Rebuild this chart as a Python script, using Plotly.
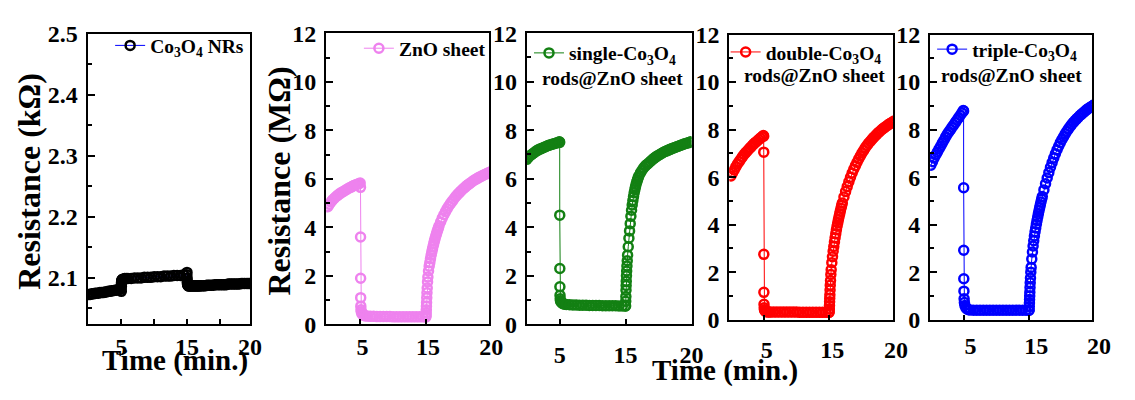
import plotly.graph_objects as go

W, H = 1135, 400

# ---------------- data ----------------
time_min = [
    0, 0.25, 0.5, 0.75, 1, 1.25, 1.5, 1.75, 2, 2.25, 2.5, 2.75, 3, 3.25, 3.5, 3.75,
    4, 4.25, 4.5, 4.75, 4.95,
    5.0, 5.01, 5.02, 5.03, 5.05, 5.08, 5.12, 5.2, 5.35, 5.5, 5.75, 6.0,
    6.5, 7, 7.5, 8, 8.5, 9, 9.5, 10, 10.5, 11, 11.5, 12, 12.5, 13, 13.5, 14, 14.5, 14.95,
    15.0, 15.02, 15.04, 15.06, 15.08, 15.1, 15.13, 15.16, 15.2, 15.25, 15.3, 15.4, 15.5, 15.6,
    15.7, 15.8, 15.9, 16.0, 16.1, 16.2, 16.3, 16.4, 16.5, 16.6, 16.7, 16.8, 16.9, 17.0,
    17.25, 17.5, 17.75, 18, 18.25, 18.5, 18.75, 19, 19.25, 19.5, 19.75, 20,
    20.25, 20.5, 20.75, 21, 21.25, 21.5, 21.75, 22, 22.25, 22.5, 22.75, 23, 23.25, 23.5,
    23.75, 24, 24.25, 24.5, 24.75, 24.9,
]

co3o4_nrs_kohm = [
    2.073, 2.073, 2.074, 2.074, 2.075, 2.075, 2.075, 2.076, 2.076, 2.076, 2.077, 2.077,
    2.078, 2.078, 2.079, 2.079, 2.080, 2.080, 2.081, 2.081, 2.082,
    2.078, 2.086, 2.090, 2.093, 2.095, 2.096, 2.097, 2.098, 2.098, 2.099, 2.099, 2.099,
    2.099, 2.100, 2.100, 2.100, 2.101, 2.101, 2.101, 2.102, 2.102, 2.102, 2.103, 2.103, 2.103,
    2.104, 2.104, 2.104, 2.105, 2.105,
    2.109, 2.100, 2.095, 2.092, 2.090, 2.089, 2.088, 2.088, 2.087, 2.087, 2.087, 2.087, 2.087, 2.087,
    2.087, 2.087, 2.087, 2.087, 2.087, 2.087, 2.087, 2.087, 2.087, 2.087, 2.087, 2.087, 2.087, 2.087,
    2.087, 2.087, 2.087, 2.088, 2.088, 2.088, 2.088, 2.088, 2.089, 2.089, 2.089, 2.089,
    2.089, 2.089, 2.089, 2.089, 2.090, 2.090, 2.090, 2.090, 2.090, 2.090, 2.090, 2.090,
    2.091, 2.091, 2.091, 2.091, 2.091, 2.091, 2.091, 2.091,
]

zno_sheet_mohm = [
    4.85, 4.95, 5.05, 5.13, 5.2, 5.26, 5.32, 5.37, 5.42, 5.46, 5.5, 5.54, 5.58, 5.62,
    5.65, 5.69, 5.72, 5.75, 5.78, 5.8, 5.83,
    5.65, 3.6, 1.9, 1.1, 0.75, 0.6, 0.52, 0.45, 0.4, 0.37, 0.35, 0.34,
    0.33, 0.33, 0.32, 0.32, 0.32, 0.32, 0.32, 0.31, 0.31, 0.31, 0.31, 0.31, 0.31,
    0.31, 0.31, 0.31, 0.31, 0.31,
    0.31, 0.38, 0.48, 0.6, 0.75, 0.9, 1.1, 1.3, 1.5, 1.75, 1.95, 2.2, 2.4, 2.55,
    2.7, 2.85, 2.98, 3.1, 3.22, 3.33, 3.44, 3.54, 3.63, 3.72, 3.81, 3.89, 3.97, 4.05,
    4.22, 4.38, 4.52, 4.65, 4.77, 4.88, 4.98, 5.07, 5.16, 5.25, 5.33, 5.4,
    5.47, 5.54, 5.6, 5.66, 5.72, 5.77, 5.82, 5.87, 5.92, 5.96, 6.0, 6.04, 6.08, 6.11,
    6.15, 6.18, 6.21, 6.24, 6.27, 6.28,
]

single_mohm = [
    6.8, 6.88, 6.95, 7.0, 7.05, 7.1, 7.15, 7.19, 7.22, 7.25, 7.28, 7.31, 7.34, 7.37,
    7.39, 7.41, 7.43, 7.45, 7.47, 7.49, 7.52,
    7.5, 4.5, 2.3, 1.55, 1.2, 1.05, 0.97, 0.92, 0.88, 0.85, 0.83, 0.82,
    0.81, 0.8, 0.8, 0.79, 0.79, 0.79, 0.78, 0.78, 0.78, 0.78, 0.77, 0.77, 0.77,
    0.77, 0.77, 0.76, 0.76, 0.76,
    0.76, 0.95, 1.15, 1.4, 1.6, 1.78, 2.0, 2.2, 2.4, 2.62, 2.85, 3.2, 3.55, 3.85,
    4.15, 4.45, 4.7, 4.92, 5.1, 5.27, 5.42, 5.55, 5.67, 5.78, 5.87, 5.96, 6.04, 6.11,
    6.24, 6.35, 6.45, 6.53, 6.59, 6.65, 6.71, 6.77, 6.83, 6.88, 6.93, 6.97,
    7.01, 7.05, 7.09, 7.12, 7.15, 7.18, 7.21, 7.24, 7.27, 7.29, 7.32, 7.34, 7.37, 7.39,
    7.42, 7.44, 7.46, 7.48, 7.5, 7.52,
]

double_mohm = [
    6.05, 6.18, 6.3, 6.43, 6.55, 6.65, 6.75, 6.85, 6.95, 7.03, 7.1, 7.18, 7.25, 7.33,
    7.4, 7.46, 7.52, 7.58, 7.64, 7.7, 7.75,
    7.72, 7.05, 2.75, 1.15, 0.65, 0.5, 0.42, 0.37, 0.34, 0.33, 0.32, 0.32,
    0.32, 0.32, 0.32, 0.32, 0.32, 0.32, 0.32, 0.32, 0.31, 0.31, 0.31, 0.31, 0.31,
    0.31, 0.31, 0.31, 0.31, 0.31,
    0.32, 0.45, 0.6, 0.75, 0.9, 1.05, 1.25, 1.45, 1.65, 1.9, 2.1, 2.4, 2.65, 2.88,
    3.08, 3.27, 3.45, 3.62, 3.78, 3.93, 4.07, 4.2, 4.33, 4.45, 4.57, 4.69, 4.8, 4.91,
    5.16, 5.39, 5.6, 5.8, 5.99, 6.17, 6.33, 6.48, 6.62, 6.76, 6.89, 7.01,
    7.12, 7.23, 7.33, 7.42, 7.5, 7.58, 7.66, 7.73, 7.8, 7.87, 7.93, 7.99, 8.05, 8.1,
    8.15, 8.2, 8.25, 8.29, 8.33, 8.36,
]

triple_mohm = [
    6.5, 6.65, 6.8, 6.93, 7.05, 7.18, 7.3, 7.43, 7.55, 7.68, 7.8, 7.9, 8.0, 8.1,
    8.2, 8.3, 8.4, 8.5, 8.6, 8.7, 8.8,
    8.78, 5.55, 2.92, 1.72, 1.2, 0.88, 0.72, 0.6, 0.5, 0.45, 0.42, 0.41,
    0.4, 0.4, 0.4, 0.4, 0.4, 0.4, 0.4, 0.4, 0.4, 0.4, 0.4, 0.4, 0.4,
    0.4, 0.4, 0.4, 0.4, 0.4,
    0.4, 0.55, 0.7, 0.85, 1.0, 1.15, 1.35, 1.55, 1.75, 2.0, 2.2, 2.55, 2.85, 3.1,
    3.32, 3.52, 3.7, 3.86, 4.02, 4.17, 4.31, 4.45, 4.58, 4.71, 4.83, 4.95, 5.07, 5.18,
    5.46, 5.72, 5.96, 6.19, 6.41, 6.61, 6.8, 6.98, 7.15, 7.3, 7.45, 7.58,
    7.7, 7.82, 7.93, 8.03, 8.13, 8.22, 8.3, 8.38, 8.45, 8.52, 8.59, 8.65, 8.71, 8.77,
    8.83, 8.88, 8.93, 8.97, 9.01, 9.04,
]

series_names = [
    "Co<sub>3</sub>O<sub>4</sub> NRs",
    "ZnO sheet",
    "single-Co<sub>3</sub>O<sub>4</sub>",
    "double-Co<sub>3</sub>O<sub>4</sub>",
    "triple-Co<sub>3</sub>O<sub>4</sub>",
]
series_values = [co3o4_nrs_kohm, zno_sheet_mohm, single_mohm, double_mohm, triple_mohm]
x_tick_labels = ["5", "15", "20"]
y_title_k = "Resistance (k\u03a9)"
y_title_m = "Resistance (M\u03a9)"
x_title = "Time (min.)"
second_line = "rods@ZnO sheet"

# ---------------- styling / layout ----------------
marker_colors = ["#000000", "#EE82EE", "#138013", "#FF0000", "#0000FF"]
line_colors = ["#0000FF", "#EE82EE", "#138013", "#FF0000", "#0000FF"]

# panel boxes in pixels: left, right, top, bottom
boxes = [
    (89, 254.3, 22, 333),
    (331.7, 497.7, 21.7, 333),
    (535.7, 703.3, 21.5, 333),
    (741.7, 908.3, 23, 328),
    (946, 1110.7, 23, 328),
]
x_ranges = [[-0.15, 24.6], [-0.25, 24.7], [0.0, 25.0], [-0.25, 24.75], [-0.1, 24.6]]
y_ranges = [[2.024, 2.5], [0, 12], [0, 12], [0, 12], [0, 12]]
xlabel_standoff = [0, 0, 8, 8, 4]
xlabel_shift = [0, 2, 0, 3, 7]
legend_pos = [(112, 35), (365, 38), (538, 43), (738, 42), (948, 39)]

FONT = "Liberation Serif"
TICK_SIZE = 24
LEG_SIZE = 19.5

fig = go.Figure()

for i in range(5):
    suffix = "" if i == 0 else str(i + 1)
    fig.add_trace(go.Scatter(
        x=time_min, y=series_values[i],
        mode="lines+markers",
        name=series_names[i],
        line=dict(color=line_colors[i], width=1),
        marker=dict(symbol="circle-open", size=9, color=marker_colors[i],
                    line=dict(width=2.5, color=marker_colors[i])),
        xaxis="x" + suffix, yaxis="y" + suffix,
        legend="legend" + suffix,
        showlegend=True,
    ))

    l, r, t, b = boxes[i]
    xr = x_ranges[i]
    xa = dict(
        domain=[l / W, r / W], range=xr, anchor="y" + suffix,
        showline=True, linecolor="black", linewidth=2, mirror=True,
        ticks="inside", ticklen=5, tickwidth=2, tickcolor="black",
        tickvals=[5, 15, xr[1] - 0.02], ticktext=x_tick_labels,
        tickfont=dict(family=FONT, size=TICK_SIZE, color="black", weight="bold"),
        ticklabelstandoff=xlabel_standoff[i], ticklabelshift=xlabel_shift[i],
        showgrid=False, zeroline=False,
    )
    if i == 0:
        xa["minor"] = dict(tickmode="array", tickvals=[10, 20], ticks="inside",
                           ticklen=5, tickwidth=2, tickcolor="black")
        ya = dict(tick0=2.1, dtick=0.1, tickformat=".1f",
                  minor=dict(dtick=0.05, tick0=2.05, ticks="inside", ticklen=4,
                             tickwidth=2, tickcolor="black"))
    else:
        ya = dict(tick0=0, dtick=2,
                  minor=dict(dtick=1, tick0=0, ticks="inside", ticklen=4,
                             tickwidth=2, tickcolor="black"))
    ya.update(
        domain=[1 - b / H, 1 - t / H], range=y_ranges[i], anchor="x" + suffix,
        showline=True, linecolor="black", linewidth=2, mirror=True,
        ticks="inside", ticklen=7, tickwidth=2, tickcolor="black",
        tickfont=dict(family=FONT, size=TICK_SIZE, color="black", weight="bold"),
        ticklabelstandoff=3,
        showgrid=False, zeroline=False,
    )
    fig.update_layout({"xaxis" + suffix: xa, "yaxis" + suffix: ya})

    lx, ly = legend_pos[i]
    fig.update_layout({"legend" + suffix: dict(
        x=lx / W, y=1 - ly / H, xanchor="left", yanchor="middle",
        bgcolor="rgba(0,0,0,0)", borderwidth=0, itemwidth=30,
        font=dict(family=FONT, size=LEG_SIZE, color="black", weight="bold"),
    )})

annotations = []
# second legend line for the composite samples
for ax_left, ay in [(549, 70), (755, 67), (955, 67)]:
    annotations.append(dict(
        text=second_line, x=ax_left / W, y=1 - ay / H, xref="paper", yref="paper",
        xanchor="left", yanchor="middle", showarrow=False,
        font=dict(family=FONT, size=LEG_SIZE, color="black", weight="bold"),
    ))
# axis titles
for txt, cx, cy, ang, fs in [(y_title_k, 30, 180, -90, 32), (y_title_m, 284, 180, -90, 32),
                             (x_title, 178, 372, 0, 29), (x_title, 737, 382, 0, 29)]:
    annotations.append(dict(
        text=txt, x=cx / W, y=1 - cy / H, xref="paper", yref="paper",
        xanchor="center", yanchor="middle", showarrow=False, textangle=ang,
        font=dict(family=FONT, size=fs, color="black", weight="bold"),
    ))

fig.update_layout(
    width=W, height=H, margin=dict(l=0, r=0, t=0, b=0),
    paper_bgcolor="white", plot_bgcolor="white",
    annotations=annotations,
)

fig.write_html("out.html")
